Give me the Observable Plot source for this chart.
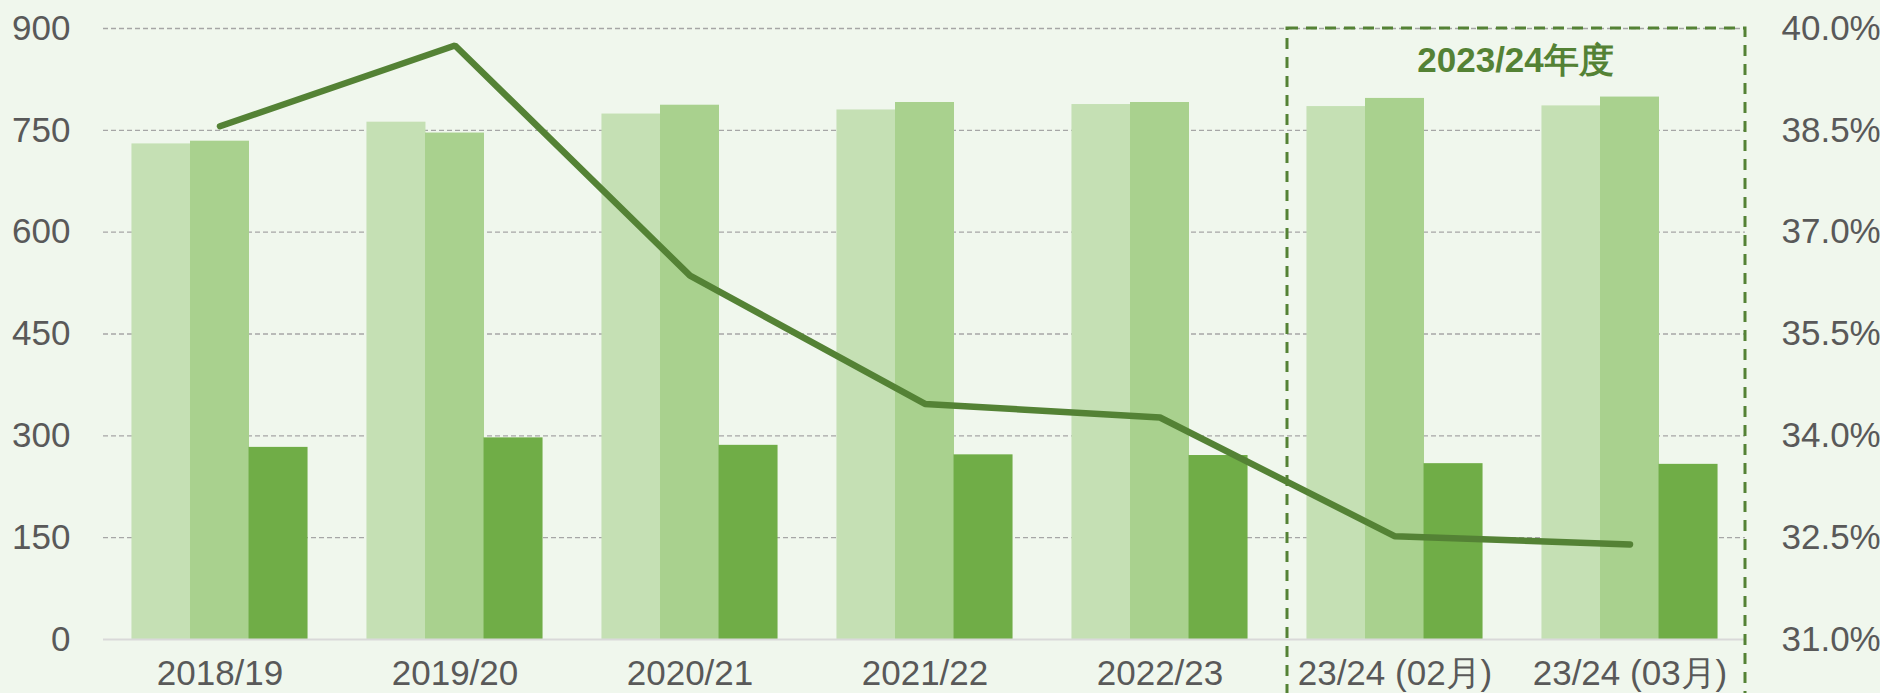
<!DOCTYPE html>
<html>
<head>
<meta charset="utf-8">
<script src="https://cdn.jsdelivr.net/npm/d3@7"></script>
<script src="https://cdn.jsdelivr.net/npm/@observablehq/plot@0.6"></script>
<style>
  html, body { margin: 0; padding: 0; background: #F0F7ED; }
  #chart svg { display: block; }
</style>
</head>
<body>
<div id="chart"></div>
<script>
// ---- data ----
const categories = ["2018/19", "2019/20", "2020/21", "2021/22", "2022/23", "23/24 (02月)", "23/24 (03月)"];
const seriesLight  = [730, 762, 774, 780, 788, 785, 786];
const seriesMedium = [734, 746, 787, 791, 791, 797, 799];
const seriesDark   = [283, 297, 286, 272, 271, 259, 258];
const ratioPct     = [38.56, 39.75, 36.36, 34.47, 34.27, 32.52, 32.40];
const leftTicks  = [0, 150, 300, 450, 600, 750, 900];
const rightTicks = [31.0, 32.5, 34.0, 35.5, 37.0, 38.5, 40.0];
const highlightCats = ["23/24 (02月)", "23/24 (03月)"];
const highlightLabel = "2023/24年度";

// ---- layout ----
const W = 1880, H = 693;
const mL = 103, mR = 135, mT = 28, mB = 54;
const padInner = 0.751, padOuter = 0.3675;
const step = (W - mL - mR) / (categories.length - padInner + 2 * padOuter);
const barW = step * (1 - padInner);

const pMin = rightTicks[0], pMax = rightTicks[rightTicks.length - 1];
const yMax = leftTicks[leftTicks.length - 1];
const toY = p => (p - pMin) / (pMax - pMin) * yMax;
const fromY = v => pMin + v / yMax * (pMax - pMin);

const rows = categories.map((c, i) => ({
  cat: c, light: seriesLight[i], medium: seriesMedium[i], dark: seriesDark[i], pct: ratioPct[i]
}));

const font = "'Liberation Sans', Arial, sans-serif";
const txt = "#595959";
const green = "#548235";

const chart = Plot.plot({
  width: W, height: H,
  marginLeft: mL, marginRight: mR, marginTop: mT, marginBottom: mB,
  style: { fontFamily: font, fontSize: "35px", background: "#F0F7ED", color: txt, overflow: "visible" },
  x: { type: "band", domain: categories, paddingInner: padInner, paddingOuter: padOuter, axis: null },
  y: { domain: [0, yMax], axis: null },
  marks: [
    Plot.gridY(leftTicks.filter(d => d > 0), { stroke: "#A6A6A6", strokeOpacity: 1, strokeWidth: 1.3, strokeDasharray: "5,3" }),
    Plot.barY(rows, { x: "cat", y: "light",  fill: "#C5E0B4", dx: -barW }),
    Plot.barY(rows, { x: "cat", y: "medium", fill: "#A9D18E" }),
    Plot.barY(rows, { x: "cat", y: "dark",   fill: "#70AD47", dx: barW }),
    Plot.ruleY([0], { stroke: "#D9D9D9", strokeWidth: 2 }),
    Plot.rect([{ a: highlightCats[0], b: highlightCats[1] }], {
      x1: "a", x2: "b", y1: -120, y2: yMax,
      fill: "none", stroke: green, strokeWidth: 3, strokeDasharray: "11,8",
      insetLeft: -78, insetRight: -86
    }),
    Plot.lineY(rows, { x: "cat", y: d => toY(d.pct), stroke: green, strokeWidth: 6.5, strokeLinecap: "round", strokeLinejoin: "miter" }),
    Plot.text([highlightLabel], {
      x: () => highlightCats[0], y: () => 852, text: d => d, dx: step / 2 + 3,
      fill: green, fontWeight: "bold", fontSize: 35, textAnchor: "middle", lineAnchor: "middle"
    }),
    Plot.axisY({ anchor: "left", ticks: leftTicks, tickSize: 0, tickPadding: 33, fontSize: 35, color: txt }),
    Plot.axisY({ anchor: "right", ticks: rightTicks.map(toY), tickFormat: v => fromY(v).toFixed(1) + "%", tickSize: 0, tickPadding: 36, fontSize: 35, color: txt }),
    Plot.axisX({ anchor: "bottom", tickSize: 0, tickPadding: 21, fontSize: 35, color: txt })
  ]
});
document.getElementById("chart").appendChild(chart);
</script>
</body>
</html>
